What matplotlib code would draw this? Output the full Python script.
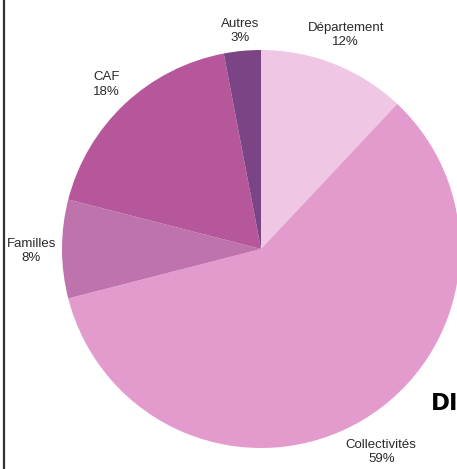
#!/usr/bin/env python3

from matplotlib import pyplot as plt
from matplotlib.lines import Line2D
import numpy as np

sources = ['Département', 'Collectivités', 'Familles', 'CAF', 'Autres']
shares = [12, 59, 8, 18, 3]
colors = ['#EFC6E3', '#E39BCD', '#BE73AC', '#B7579B', '#7B4585']

# label placement: distance from centre (radii) and angular nudge (deg)
label_dist = [1.157, 1.187, 1.155, 1.134, 1.10]
label_shift = [0.0, 0.0, 0.5, 0.0, 0.0]

W, H = 457, 469
cx, cy, r = 261, 249, 199  # pie centre and radius in pixels

fig = plt.figure(figsize=(W / 100, H / 100), dpi=100)
ax = fig.add_axes([0, 0, 1, 1])
ax.set_axis_off()

wedges, _ = ax.pie(shares, colors=colors, startangle=90, counterclock=False,
                   radius=1, wedgeprops={'linewidth': 0})

for w, name, v, d, s in zip(wedges, sources, shares, label_dist, label_shift):
    a = np.deg2rad((w.theta1 + w.theta2) / 2 + s)
    ax.text(d * np.cos(a), d * np.sin(a), '%s\n%d%%' % (name, v),
            ha='center', va='center', fontsize=9.5, color='#2a2a2a',
            family=['Liberation Sans', 'DejaVu Sans'], linespacing=1.25)

# keep 1 data unit == r pixels in both directions
ax.set_xlim(-cx / r, (W - cx) / r)
ax.set_ylim((cy - H) / r, cy / r)
ax.set_aspect('auto')

# heading at the right edge
fig.text(431 / W, 1 - 403 / H, 'DI', fontsize=16.5, fontweight='heavy',
         family='DejaVu Sans', color='black', va='center', ha='left')

# frame line down the left side
fig.add_artist(Line2D([3.5 / W, 3.5 / W], [0, 1], color='#333333', lw=1.6,
                      transform=fig.transFigure))

plt.savefig('out.png', dpi=100)
